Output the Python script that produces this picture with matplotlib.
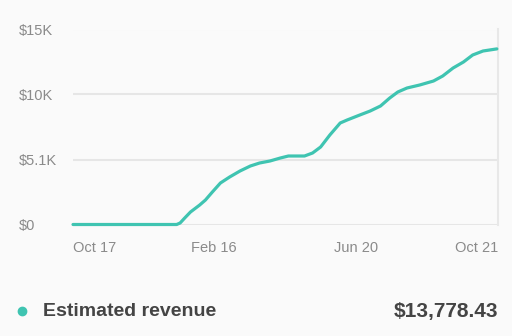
import matplotlib.pyplot as plt
import matplotlib.lines as mlines
import pandas as pd

# cumulative estimated revenue (day offset from start, dollars)
start = pd.Timestamp('2020-10-17')
days = [0, 90, 93, 97, 102, 110, 115, 121, 128, 136, 145, 154, 162, 171, 180,
        187, 201, 208, 215, 223, 232, 238, 249, 258, 267, 275, 282, 290, 301,
        313, 321, 330, 339, 347, 356, 368]
revenue = [0, 0, 118, 510, 981, 1530, 1922, 2550, 3256, 3727, 4198, 4590, 4825,
           4982, 5217, 5374, 5374, 5610, 6081, 7022, 7964, 8199, 8591, 8905,
           9298, 9925, 10396, 10710, 10945, 11259, 11651, 12279, 12750, 13299,
           13613, 13778.43]
dates = [start + pd.Timedelta(days=d) for d in days]

y_ticks = [0, 5100, 10200, 15300]
y_labels = ['$0', '$5.1K', '$10K', '$15K']
x_ticks = [pd.Timestamp('2020-10-17'), pd.Timestamp('2021-02-16'),
           pd.Timestamp('2021-06-20'), pd.Timestamp('2021-10-21')]
x_labels = ['Oct 17', 'Feb 16', 'Jun 20', 'Oct 21']

total_label = 'Estimated revenue'
total_value = '$13,778.43'

teal = '#3fc4b1'
bg = '#fafafa'

plt.rcParams['font.family'] = ['Liberation Sans', 'DejaVu Sans']

fig = plt.figure(figsize=(5.12, 3.36), dpi=100, facecolor=bg)
ax = fig.add_axes([73 / 512, 111.5 / 336, 425 / 512, 195 / 336], facecolor=bg)

ax.plot(dates, revenue, color=teal, linewidth=2.3, clip_on=False, zorder=3,
        solid_capstyle='round')

ax.set_xlim(x_ticks[0], x_ticks[-1])
ax.set_ylim(0, 15300)
ax.set_yticks(y_ticks)
ax.set_yticklabels(y_labels)
ax.set_xticks(x_ticks)
ax.set_xticklabels(x_labels)
ax.grid(axis='y', color='#e6e6e6', linewidth=1.5)
ax.set_axisbelow(True)

for s in ['top', 'left', 'bottom']:
    ax.spines[s].set_visible(False)
ax.spines['right'].set_color('#e8e8e8')
ax.spines['right'].set_linewidth(1.5)

ax.tick_params(axis='both', length=0, labelsize=10.5, labelcolor='#8a8a8a')
ax.tick_params(axis='y', pad=54 * 0.72)
ax.tick_params(axis='x', pad=12)
for lab in ax.get_yticklabels():
    lab.set_horizontalalignment('left')
xl = ax.get_xticklabels()
xl[0].set_horizontalalignment('left')
xl[-1].set_horizontalalignment('right')

# legend row below the chart
row_y = 1 - 311 / 336
fig.add_artist(mlines.Line2D([22 / 512], [row_y], marker='o', markersize=6,
                             color=teal, transform=fig.transFigure))
fig.text(43 / 512, row_y, total_label, fontsize=14, fontweight='bold',
         color='#444444', va='center', ha='left')
fig.text(498 / 512, row_y, total_value, fontsize=15, fontweight='bold',
         color='#444444', va='center', ha='right')

fig.savefig('out.png', dpi=100, facecolor=bg)
